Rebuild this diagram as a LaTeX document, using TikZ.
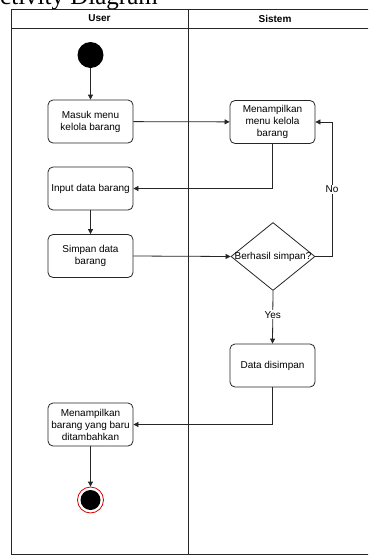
\documentclass[tikz,border=0pt]{standalone}
\usepackage{fontspec}
\setmainfont{Liberation Sans}
\newfontfamily\titlefont{Liberation Serif}
\usetikzlibrary{shapes.geometric,arrows.meta}
\begin{document}
\begin{tikzpicture}[x=1pt,y=-1pt,
  ln/.style={draw=black!85, line width=0.8pt},
  act/.style={ln, rounded corners=5pt, minimum width=85pt, minimum height=43pt, align=center, inner sep=0pt, font=\fontsize{10}{12}\selectfont},
  arr/.style={ln, -{Triangle[length=5pt,width=5pt]}},
  lbl/.style={font=\fontsize{10}{12}\selectfont, fill=white, inner sep=1pt},
  hdr/.style={font=\bfseries\fontsize{10}{12}\selectfont}
]
\useasboundingbox (0,0) rectangle (368,555);
\clip (0,0) rectangle (368,555);
\fill[white] (0,0) rectangle (368,555);
% title (cut at top)
\node[anchor=base west, inner sep=0pt, font=\titlefont\fontsize{25}{30}\selectfont] (title) at (-18,4) {Activity Diagram};
% swimlane frame
\draw[ln] (11,554) -- (11,9) -- (372,9);
\draw[ln] (11,28) -- (372,28);
\draw[ln] (11,554) -- (372,554);
\draw[ln] (188,9) -- (188,554);
\node[hdr] (u) at (99.5,18.5) {User};
\node[hdr] (s) at (275,18.5) {Sistem};
% nodes
\node[circle, fill=black, minimum size=26pt, inner sep=0pt] (start) at (90.5,55) {};
\node[act] (masuk) at (90.5,121.5) {Masuk menu\\kelola barang};
\node[act] (tampil) at (272.5,122) {Menampilkan\\menu kelola\\barang};
\node[act] (input) at (90.5,188.5) {Input data barang};
\node[act] (simpan) at (90.5,256) {Simpan data\\barang};
\node[diamond, ln, minimum width=84pt, minimum height=68pt, inner sep=0pt,
      label={[font=\fontsize{10}{12}\selectfont]center:Berhasil simpan?}] (cek) at (273,256.5) {};
\node[act] (data) at (272.5,365.5) {Data disimpan};
\node[act] (hasil) at (90.5,424.5) {Menampilkan\\barang yang baru\\ditambahkan};
\node[circle, draw=red!85!black, line width=0.8pt, fill=white, minimum size=26pt, inner sep=0pt] (end) at (90.5,500) {};
\node[circle, fill=black, minimum size=20pt, inner sep=0pt] (endin) at (end) {};
% helper coordinates
\coordinate (noA) at (332,256.5);
\coordinate (noB) at (332,122);
% connectors
\draw[arr] (start) -- (masuk);
\draw[arr] (masuk) -- (tampil);
\draw[arr] (tampil.south) |- (input.east);
\draw[arr] (input) -- (simpan);
\draw[arr] (simpan.east) -- (cek.west);
\draw[arr] (cek.east) -- (noA) -- node[lbl, pos=0.5] {No} (noB) -- (tampil.east);
\draw[arr] (cek.south) -- node[lbl, pos=0.45] {Yes} (data.north);
\draw[arr] (data.south) |- (hasil.east);
\draw[arr] (hasil) -- (end);
\end{tikzpicture}
\end{document}
